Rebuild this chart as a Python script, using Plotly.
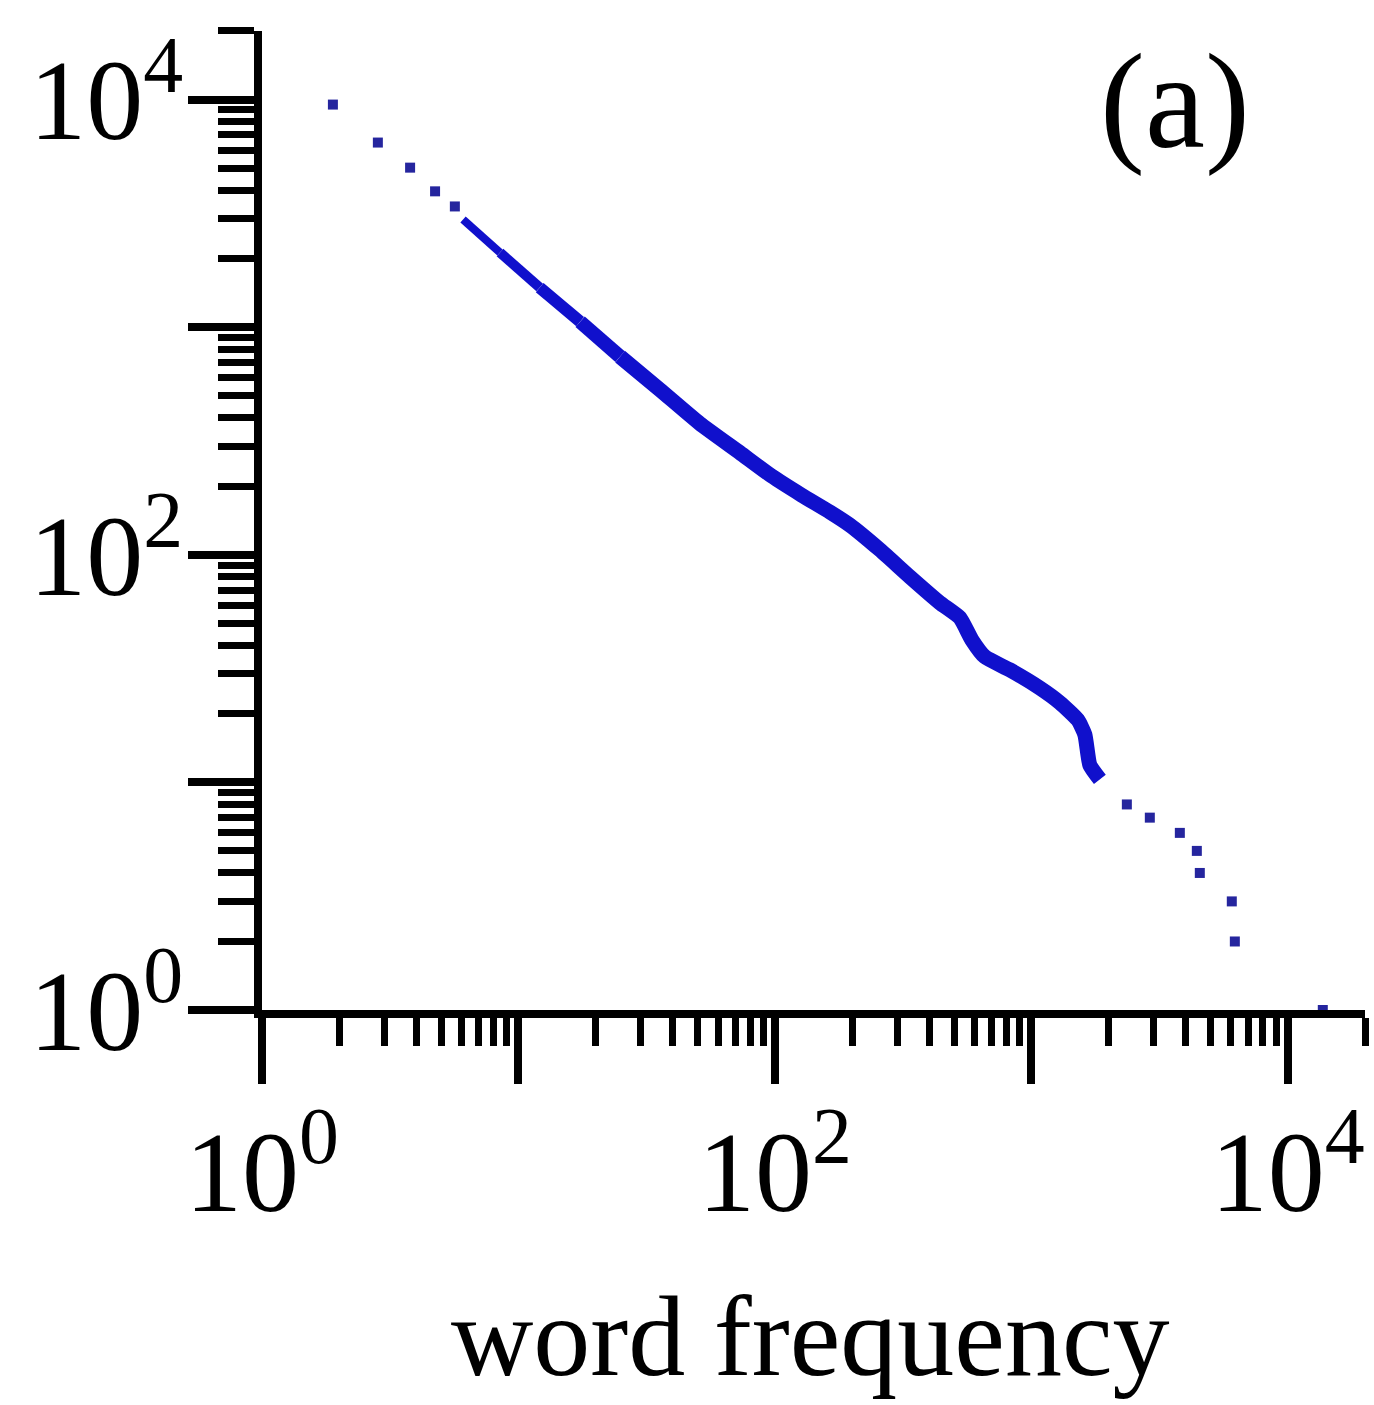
import plotly.graph_objects as go

# Rank / frequency readings on log-log axes
head_x = [1.89, 2.83, 3.78, 4.73, 5.65]
head_y = [9500, 6470, 5020, 3950, 3390]

band_x = [6.08, 8.47, 12.1, 17.4, 24.9, 35.6, 51.0, 73.0, 97.0, 127, 164, 196,
          257, 336, 440, 526, 586, 659, 825, 1079, 1292, 1518, 1617, 1691, 1850]
band_y = [2970, 2126, 1492, 1057, 742, 531, 377, 281, 222, 183, 154, 135,
          105, 80.0, 61.5, 52.9, 42.3, 35.6, 31.2, 26.0, 22.4, 18.8, 16.2, 11.9, 10.3]

tail_x = [2357, 2897, 3793, 4418, 4538, 6048, 6215, 13690]
tail_y = [8, 7, 6, 5, 4, 3, 2, 1]

major_vals = [1, 10, 100, 1000, 10000]
major_text = ["10<sup>0</sup>", "", "10<sup>2</sup>", "", "10<sup>4</sup>"]
minor_vals = [m * 10 ** k for k in range(0, 4) for m in range(2, 10)] + [20000]

BLUE = "#1010cc"
DOT = "#25259e"
FONT = "Liberation Serif"

fig = go.Figure()
# the dense run thickens as the points crowd together
for lo, hi, w in [(0, 2, 8), (1, 3, 10), (2, 4, 12), (3, 5, 14), (4, None, 15)]:
    fig.add_trace(go.Scatter(x=band_x[lo:hi], y=band_y[lo:hi], mode="lines",
                             line=dict(color=BLUE, width=w, shape="spline", smoothing=0.5),
                             hoverinfo="skip"))
fig.add_trace(go.Scatter(x=head_x + tail_x, y=head_y + tail_y, mode="markers",
                         marker=dict(color=DOT, size=10, symbol="square"),
                         hoverinfo="skip"))

axis_common = dict(
    type="log", showgrid=False, zeroline=False,
    showline=True, linecolor="black", linewidth=8,
    ticks="outside", ticklen=66, tickwidth=8, tickcolor="black",
    tickmode="array", tickvals=major_vals, ticktext=major_text,
    tickfont=dict(family=FONT, size=114, color="black"),
    range=[0, 4.301],
)

fig.update_xaxes(**axis_common, ticklabelstandoff=-10,
                 minor=dict(ticks="outside", ticklen=28, tickwidth=7, tickcolor="black",
                            tickmode="array", tickvals=minor_vals, showgrid=False))
fig.update_yaxes(**axis_common, ticklabelstandoff=-18,
                 minor=dict(ticks="outside", ticklen=36, tickwidth=7, tickcolor="black",
                            tickmode="array", tickvals=minor_vals, showgrid=False))

fig.add_annotation(text="(a)", xref="paper", yref="paper", x=0.828, y=0.928,
                   xanchor="center", yanchor="middle", showarrow=False,
                   font=dict(family=FONT, size=135, color="black"))
fig.add_annotation(text="word frequency", xref="paper", yref="paper", x=0.497, y=-0.333,
                   xanchor="center", yanchor="middle", showarrow=False,
                   font=dict(family=FONT, size=114, color="black"))

fig.update_layout(
    width=1374, height=1405,
    margin=dict(l=262, r=9, t=31, b=395),
    plot_bgcolor="white", paper_bgcolor="white",
    showlegend=False,
)

fig.write_html("out.html")
